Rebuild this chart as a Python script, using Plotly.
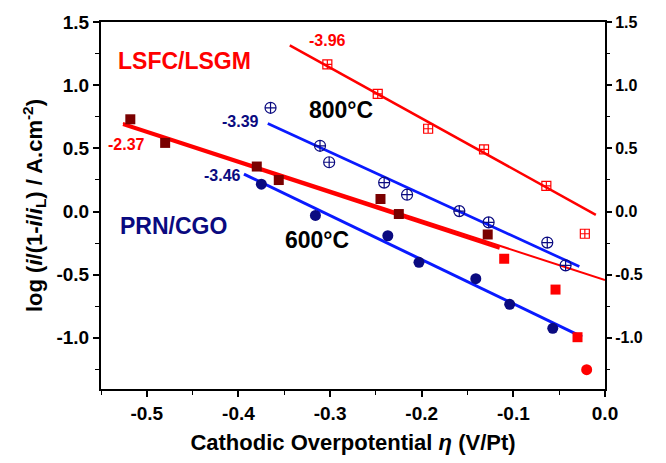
import plotly.graph_objects as go

# ---- data ----
lsfc800_x = [-0.303, -0.248, -0.193, -0.132, -0.064, -0.022]
lsfc800_y = [1.164, 0.931, 0.655, 0.491, 0.203, -0.176]
lsfc800_fit_x = [-0.344, -0.010]
lsfc800_fit_y = [1.315, -0.026]

prn800_x = [-0.365, -0.311, -0.301, -0.241, -0.216, -0.159, -0.127, -0.063, -0.043]
prn800_y = [0.821, 0.520, 0.390, 0.229, 0.133, 0.003, -0.086, -0.246, -0.426]
prn800_fit_x = [-0.368, -0.028]
prn800_fit_y = [0.697, -0.436]

lsfc600a_x = [-0.518, -0.480, -0.380, -0.356, -0.245, -0.225, -0.128]
lsfc600a_y = [0.730, 0.543, 0.356, 0.249, 0.099, -0.020, -0.182]
lsfc600b_x = [-0.110, -0.054, -0.030]
lsfc600b_y = [-0.374, -0.618, -0.995]
lsfc600c_x = [-0.020]
lsfc600c_y = [-1.252]
lsfc600_fit_x = [-0.526, -0.115]
lsfc600_fit_y = [0.689, -0.290]
lsfc600_fit2_x = [-0.526, -0.115, 0.0]
lsfc600_fit2_y = [0.700, -0.275, -0.543]

prn600_x = [-0.375, -0.316, -0.237, -0.203, -0.141, -0.104, -0.057]
prn600_y = [0.216, -0.031, -0.192, -0.402, -0.532, -0.735, -0.925]
prn600_fit_x = [-0.394, -0.025]
prn600_fit_y = [0.296, -0.992]

x_ticks = [-0.5, -0.4, -0.3, -0.2, -0.1, 0.0]
y_ticks = [-1.0, -0.5, 0.0, 0.5, 1.0, 1.5]

RED = "#ff0000"
MAROON = "#7a0000"
NAVY = "#0a0a80"
BLUE = "#0a1aff"
FAM = "Liberation Sans, Arial, sans-serif"

fig = go.Figure()

def line(x, y, color, w):
    fig.add_trace(go.Scatter(x=x, y=y, mode="lines", line=dict(color=color, width=w),
                             showlegend=False, hoverinfo="skip"))

def pts(x, y, color, symbol, size, lw=1.2):
    fig.add_trace(go.Scatter(x=x, y=y, mode="markers",
                             marker=dict(color=color, symbol=symbol, size=size,
                                         line=dict(color=color, width=lw)),
                             showlegend=False))

line(lsfc800_fit_x, lsfc800_fit_y, RED, 2.5)
line(prn800_fit_x, prn800_fit_y, BLUE, 2.7)
line(lsfc600_fit2_x, lsfc600_fit2_y, RED, 2.0)
line(lsfc600_fit_x, lsfc600_fit_y, RED, 3.2)
line(prn600_fit_x, prn600_fit_y, BLUE, 3.0)

pts(lsfc800_x, lsfc800_y, RED, "square-cross-open", 9)
pts(prn800_x, prn800_y, NAVY, "circle-cross-open", 11)
pts(lsfc600a_x, lsfc600a_y, MAROON, "square", 10, 0)
pts(lsfc600b_x, lsfc600b_y, RED, "square", 10, 0)
pts(lsfc600c_x, lsfc600c_y, RED, "circle", 11, 0)
pts(prn600_x, prn600_y, NAVY, "circle", 11, 0)

# invisible trace so the right-hand axis is drawn
fig.add_trace(go.Scatter(x=[-0.3], y=[0], yaxis="y2", mode="markers",
                         marker=dict(opacity=0), showlegend=False, hoverinfo="skip"))

tickfont = dict(family=FAM, size=19, color="black", weight="bold")
minor_y = dict(tickvals=[-1.25, -0.75, -0.25, 0.25, 0.75, 1.25],
               ticks="outside", ticklen=4, tickwidth=1.3, tickcolor="black")

fig.update_layout(
    width=666, height=463,
    margin=dict(l=101, r=61, t=20, b=70),
    plot_bgcolor="white", paper_bgcolor="white",
    font=dict(family=FAM, color="black"),
    xaxis=dict(range=[-0.55, 0.0], tickvals=x_ticks,
               ticktext=[f"{v:.1f}" for v in x_ticks],
               ticks="outside", ticklen=6, tickwidth=1.6, tickcolor="black",
               minor=dict(tickvals=[-0.55, -0.45, -0.35, -0.25, -0.15, -0.05],
                          ticks="outside", ticklen=4, tickwidth=1.3, tickcolor="black"),
               showline=True, linewidth=2, linecolor="black", mirror=True,
               showgrid=False, zeroline=False, tickfont=tickfont,
               title=dict(text="Cathodic Overpotential <i>η</i> (V/Pt)",
                          font=dict(size=22, weight="bold"), standoff=12)),
    yaxis=dict(range=[-1.405, 1.5], tickvals=y_ticks,
               ticktext=[f"{v:.1f}" for v in y_ticks],
               ticks="outside", ticklen=6, tickwidth=1.6, tickcolor="black",
               minor=minor_y,
               showline=True, linewidth=2, linecolor="black", mirror=True,
               showgrid=False, zeroline=False, tickfont=tickfont,
               title=dict(text="log (<i>i</i>/(1-<i>i</i>/<i>i</i><sub>L</sub>) / A.cm<sup>-2</sup>)",
                          font=dict(size=22, weight="bold"), standoff=8)),
    yaxis2=dict(range=[-1.405, 1.5], overlaying="y", side="right",
                tickvals=y_ticks, ticktext=[f"{v:.1f}" for v in y_ticks],
                ticks="outside", ticklen=6, tickwidth=1.6, tickcolor="black",
                minor=minor_y,
                showline=False, showgrid=False, zeroline=False,
                tickfont=dict(family=FAM, size=16, color="black", weight="bold")),
)

def ann(x, y, text, color, size):
    fig.add_annotation(x=x, y=y, xref="x", yref="y", text=text, showarrow=False,
                       font=dict(color=color, size=size, weight="bold"))

def px2x(p):
    return -0.55 + (p - 101) / 916.4

def px2y(p):
    return (212.7 - p) / 128.3

ann(px2x(184), px2y(60), "LSFC/LSGM", RED, 23)
ann(px2x(173), px2y(227), "PRN/CGO", NAVY, 23)
ann(px2x(341), px2y(110), "800°C", "black", 23)
ann(px2x(317), px2y(242), "600°C", "black", 23)
ann(px2x(328), px2y(39), "-3.96", RED, 16)
ann(px2x(241), px2y(121), "-3.39", NAVY, 16)
ann(px2x(126), px2y(145), "-2.37", RED, 16)
ann(px2x(222), px2y(176), "-3.46", NAVY, 16)

fig.write_html("out.html")
